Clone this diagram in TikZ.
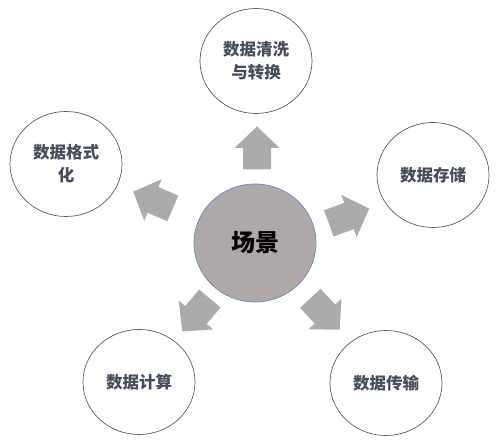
\documentclass[tikz,border=0pt]{standalone}
\usepackage{fontspec}
\newfontfamily\cjk{Noto Sans CJK SC}
\usetikzlibrary{shapes.geometric}

\definecolor{ringgray}{HTML}{5C5C5C}
\definecolor{hubgray}{HTML}{AEA8A8}
\definecolor{hubedge}{HTML}{7088B6}
\definecolor{arrowgray}{HTML}{ABABAE}
\definecolor{labelink}{HTML}{474D5C}

\begin{document}
\begin{tikzpicture}[x=1pt,y=1pt,
        leaf/.style={ellipse,draw=ringgray,line width=0.7pt,
            minimum width=112pt,minimum height=105pt,inner sep=0pt,
            align=center,text=labelink,font=\cjk\bfseries\fontsize{16.5}{23}\selectfont},
        hub/.style={ellipse,draw=hubedge,fill=hubgray,line width=0.7pt,
            minimum width=122pt,minimum height=118pt,inner sep=0pt,
            font=\cjk\bfseries\fontsize{24}{28}\selectfont},
        fatarrow/.pic={
            \fill[arrowgray] (-21.5,-14) -- (0,-14) -- (0,-22.5) -- (21.5,0)
                -- (0,22.5) -- (0,14) -- (-21.5,14) -- cycle;
        }
    ]
    \useasboundingbox (0,0) rectangle (501,446);

    % centre and the five stages
    \node[hub]  (scene)   at (255,203) {场景};
    \node[leaf] (clean)   at (256,385) {数据清洗\\与转换};
    \node[leaf] (format)  at (66,282)  {数据格式\\化};
    \node[leaf] (store)   at (433,271) {数据存储};
    \node[leaf] (compute) at (139,64)  {数据计算};
    \node[leaf] (move)    at (386,63)  {数据传输};

    % block arrows from the centre outwards
    \pic[rotate=90]   at (257,298) {fatarrow};
    \pic[rotate=157]  at (153,246) {fatarrow};
    \pic[rotate=20]   at (349,230) {fatarrow};
    \pic[rotate=-130] at (196,131) {fatarrow};
    \pic[rotate=-47]  at (325,132) {fatarrow};
\end{tikzpicture}
\end{document}
